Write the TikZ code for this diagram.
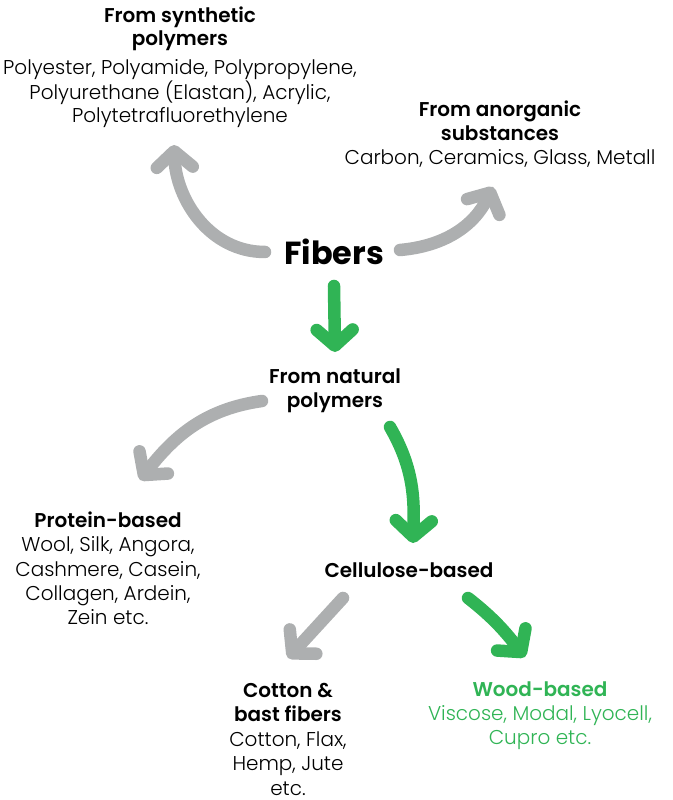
\documentclass[tikz,border=0pt]{standalone}
\usepackage{fontspec}
\setmainfont{Poppins}[UprightFont=* Light,BoldFont=* SemiBold]
\newfontfamily\fibfont{Poppins}[UprightFont=* Bold]
\usetikzlibrary{arrows.meta}
\definecolor{fibgray}{HTML}{ADAFB0}
\definecolor{fibgreen}{HTML}{30B455}
\newcommand{\hd}[1]{{\bfseries #1}}

\begin{document}
\begin{tikzpicture}[x=0.025cm,y=0.025cm,
  lbl/.style={align=center,anchor=base,inner sep=0pt,font=\fontsize{14.2}{17.4}\selectfont},
  flow/.style={line width=8.9pt,line cap=round,-{Straight Barb[round,length=0.4cm,width=0.9cm]}},
  grayflow/.style={flow,draw=fibgray},
  greenflow/.style={flow,draw=fibgreen}]
\useasboundingbox (0,0) rectangle (672,800);

\node[lbl,font=\fontsize{14.2}{16.5}\selectfont] (synth) at (180,677) {\hd{From synthetic}\\\hd{polymers}\\[4pt]Polyester, Polyamide, Polypropylene,\\Polyurethane (Elastan), Acrylic,\\Polytetrafluorethylene};
\node[lbl] (anorg) at (500,635) {\hd{From anorganic}\\\hd{substances}\\Carbon, Ceramics, Glass, Metall};
\node[lbl,font=\fontsize{22.7}{26}\fibfont] (fibers) at (334,535) {Fibers};
\node[lbl] (natural) at (335,392) {\hd{From natural}\\\hd{polymers}};
\node[lbl] (protein) at (108,175) {\hd{Protein-based}\\Wool, Silk, Angora,\\Cashmere, Casein,\\Collagen, Ardein,\\Zein etc.};
\node[lbl] (cellulose) at (409,222) {\hd{Cellulose-based}};
\node[lbl] (cotton) at (288,5) {\hd{Cotton \&}\\\hd{bast fibers}\\Cotton, Flax,\\Hemp, Jute\\etc.};
\node[lbl,text=fibgreen] (wood) at (540,55) {\hd{Wood-based}\\Viscose, Modal, Lyocell,\\Cupro etc.};

\draw[grayflow] ([shift={(-69,13)}]fibers.base) to[out=180,in=-88] ([shift={(-6,-22)}]synth.base);
\draw[grayflow] ([shift={(66,15)}]fibers.base) to[out=5,in=-116] ([shift={(-7,-22)}]anorg.base);
\draw[greenflow] ([shift={(0,-21)}]fibers.base) -- ([shift={(0,56)}]natural.base);
\draw[grayflow] ([shift={(-73,7)}]natural.base) to[out=188,in=52] ([shift={(32,145)}]protein.base);
\draw[greenflow] ([shift={(55,-19)}]natural.base) to[out=-60,in=88] ([shift={(4,35)}]cellulose.base);
\draw[grayflow] ([shift={(-66,-20)}]cellulose.base) -- ([shift={(0,137)}]cotton.base);
\draw[greenflow] ([shift={(59,-20)}]cellulose.base) to[out=-38,in=128] ([shift={(-15,88)}]wood.base);
\end{tikzpicture}
\end{document}
